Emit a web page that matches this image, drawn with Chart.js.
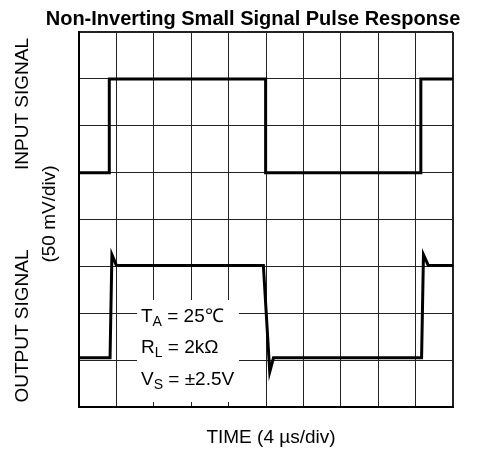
<!DOCTYPE html>
<html lang="en">
<head>
  <meta charset="UTF-8" />
  <title>Non-Inverting Small Signal Pulse Response</title>
  <script src="https://cdn.jsdelivr.net/npm/chart.js"></script>
  <style>
    html, body { margin: 0; padding: 0; background: #fff; }
    #wrap { width: 489px; height: 452px; }
  </style>
</head>
<body>
  <div id="wrap"><canvas id="pulseChart" width="489" height="452"></canvas></div>

  <script>
    // time in divisions (4 us/div), level in divisions (50 mV/div), 0 = bottom of screen
    const inputTime = [0, 0.81, 0.81, 4.99, 4.99, 9.14, 9.14, 10];
    const inputLevel = [5, 5, 7, 7, 5, 5, 7, 7];
    const outputTime = [0, 0.83, 0.88, 1.0, 4.93, 5.1, 5.2, 9.16, 9.21, 9.34, 10];
    const outputLevel = [1.05, 1.05, 3.25, 3.02, 3.02, 0.75, 1.05, 1.05, 3.25, 3.02, 3.02];
    const xDivs = 10;
    const yDivs = 8;

    const FONT = 'Arial, "Liberation Sans", sans-serif';

    function toPoints(xs, ys) {
      return xs.map((x, i) => ({ x: x, y: ys[i] }));
    }

    function edgeWidth(ctx, max) {
      const v = ctx.tick.value;
      return (v === 0 || v === max) ? 2 : 1;
    }

    // white box with test conditions, drawn over the grid
    const conditionsBox = {
      id: 'conditionsBox',
      beforeDatasetsDraw(chart) {
        const c = chart.ctx;
        c.save();
        c.fillStyle = '#fff';
        c.fillRect(137, 300, 102, 102);
        c.fillStyle = '#000';
        c.textBaseline = 'alphabetic';
        const rows = [['T', 'A', ' = 25\u2103', 322], ['R', 'L', ' = 2k\u03A9', 353], ['V', 'S', ' = \u00B12.5V', 385]];
        rows.forEach(r => {
          let x = 141;
          c.font = '19px ' + FONT;
          c.fillText(r[0], x, r[3]);
          x += c.measureText(r[0]).width;
          c.font = '14px ' + FONT;
          c.fillText(r[1], x, r[3] + 4);
          x += c.measureText(r[1]).width;
          c.font = '19px ' + FONT;
          c.fillText(r[2], x, r[3]);
        });
        c.restore();
      }
    };

    // title and axis captions
    const captions = {
      id: 'captions',
      afterDraw(chart) {
        const c = chart.ctx;
        c.save();
        c.fillStyle = '#000';
        c.textAlign = 'center';
        c.textBaseline = 'alphabetic';
        c.font = 'bold 20px ' + FONT;
        c.fillText('Non-Inverting Small Signal Pulse Response', 253, 25);
        c.font = '19px ' + FONT;
        c.fillText('TIME (4 \u00B5s/div)', 271, 443);
        c.textBaseline = 'middle';
        const rotated = [['INPUT SIGNAL', 23, 104], ['OUTPUT SIGNAL', 23, 326], ['(50 mV/div)', 50, 214]];
        rotated.forEach(r => {
          c.save();
          c.translate(r[1], r[2]);
          c.rotate(-Math.PI / 2);
          c.font = '19px ' + FONT;
          c.fillText(r[0], 0, 0);
          c.restore();
        });
        c.restore();
      }
    };

    new Chart(document.getElementById('pulseChart'), {
      type: 'line',
      data: {
        datasets: [
          { label: 'Input', data: toPoints(inputTime, inputLevel) },
          { label: 'Output', data: toPoints(outputTime, outputLevel) }
        ]
      },
      options: {
        responsive: false,
        animation: false,
        layout: { padding: { left: 79, top: 32, right: 36, bottom: 45 } },
        elements: {
          line: { borderColor: '#000', borderWidth: 3, tension: 0, borderJoinStyle: 'miter', borderCapStyle: 'butt' },
          point: { radius: 0 }
        },
        plugins: { legend: { display: false }, tooltip: { enabled: false } },
        scales: {
          x: {
            type: 'linear', min: 0, max: xDivs,
            ticks: { stepSize: 1, display: false },
            grid: { color: '#222', lineWidth: c => edgeWidth(c, xDivs), drawTicks: false },
            border: { color: '#000', width: 2 }
          },
          y: {
            type: 'linear', min: 0, max: yDivs,
            ticks: { stepSize: 1, display: false },
            grid: { color: '#222', lineWidth: c => edgeWidth(c, yDivs), drawTicks: false },
            border: { color: '#000', width: 2 }
          }
        }
      },
      plugins: [conditionsBox, captions]
    });
  </script>
</body>
</html>
